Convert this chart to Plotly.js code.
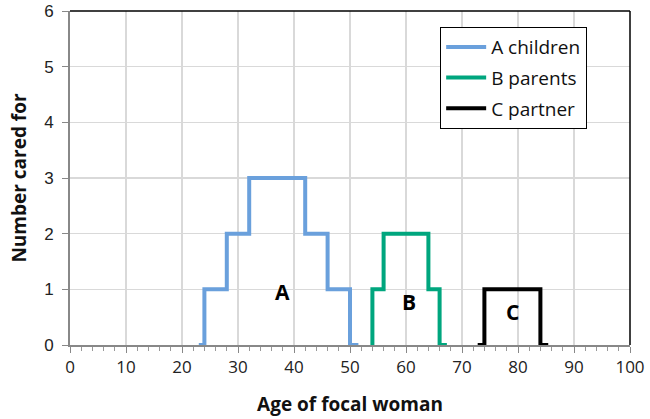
<!DOCTYPE html>
<html><head><meta charset="utf-8">
<script src="https://cdn.plot.ly/plotly-3.0.1.min.js"></script>
<style>body{margin:0;padding:0;background:#fff}#chart{width:650px;height:419px}</style>
</head><body><div id="chart"></div>
<script>
// Step series: value at each age (hv steps)
const ageA = [23, 24, 28, 32, 42, 46, 50, 51.5];
const valA = [0, 1, 2, 3, 2, 1, 0, 0];
const ageB = [53.8, 54, 56, 64, 66, 67.3];
const valB = [0, 1, 2, 1, 0, 0];
const ageC = [72.8, 74, 84, 85.4];
const valC = [0, 1, 0, 0];
const seriesNames = ["A children", "B parents", "C partner"];
const labelText = ["A", "B", "C"];
const labelX = [38, 60.5, 79];
const labelY = [0.95, 0.77, 0.6];
const xTicks = [0,10,20,30,40,50,60,70,80,90,100];
const yTicks = [0,1,2,3,4,5,6];

const colors = ["#6aa0dc", "#00a67e", "#000000"];
const traces = [[ageA,valA],[ageB,valB],[ageC,valC]].map((d,i)=>({
  x:d[0], y:d[1], type:'scatter', mode:'lines', name:seriesNames[i], legendgroup:'g'+i,
  line:{shape:'hv', color:colors[i], width:4}
}));

const FT = '"Open Sans", Lato, sans-serif';
const layout = {
  width:650, height:419,
  margin:{l:70, r:20, t:11, b:74},
  paper_bgcolor:'#fff', plot_bgcolor:'#fff',
  font:{family:FT, color:'#222'},
  showlegend:true,
  legend:{x:0.661, y:0.952, xanchor:'left', yanchor:'top', bgcolor:'#fff',
    bordercolor:'#000', borderwidth:1, font:{size:19, color:'#111', family:FT},
    itemwidth:40, tracegroupgap:3},
  xaxis:{range:[0,100], tickvals:xTicks, ticks:'outside', ticklen:6, tickcolor:'#888',
    showgrid:true, gridcolor:'#d9d9d9', gridwidth:1.5, zeroline:false,
    showline:true, linecolor:'#888', linewidth:2,
    minor:{dtick:2, ticks:'outside', ticklen:4, tickcolor:'#999', showgrid:false},
    tickfont:{size:17, color:'#222', family:FT},
    title:{text:'<b>Age of focal woman</b>', font:{size:19, color:'#111', family:FT}, standoff:20},
    fixedrange:true},
  yaxis:{range:[0,6], tickvals:yTicks, ticks:'outside', ticklen:6, tickcolor:'#888',
    ticklabelstandoff:5,
    showgrid:true, gridcolor:'#d9d9d9', gridwidth:1.5, zeroline:false,
    showline:true, linecolor:'#888', linewidth:2,
    tickfont:{size:17, color:'#222', family:'"Liberation Sans", Arial, sans-serif'},
    title:{text:'<b>Number cared for</b>', font:{size:19, color:'#111', family:FT}, standoff:12},
    fixedrange:true},
  shapes:[
    {type:'line', xref:'x domain', yref:'y domain', x0:0, x1:1, y0:1, y1:1, line:{color:'#000', width:1.5}},
    {type:'line', xref:'x domain', yref:'y domain', x0:1, x1:1, y0:0, y1:1, line:{color:'#000', width:1.5}}
  ],
  annotations: labelText.map((t,i)=>({x:labelX[i], y:labelY[i], xref:'x', yref:'y', text:'<b>'+t+'</b>',
    showarrow:false, font:{size:21, color:'#000', family:FT}}))
};
Plotly.newPlot('chart', traces, layout, {displayModeBar:false, staticPlot:true});
</script></body></html>
